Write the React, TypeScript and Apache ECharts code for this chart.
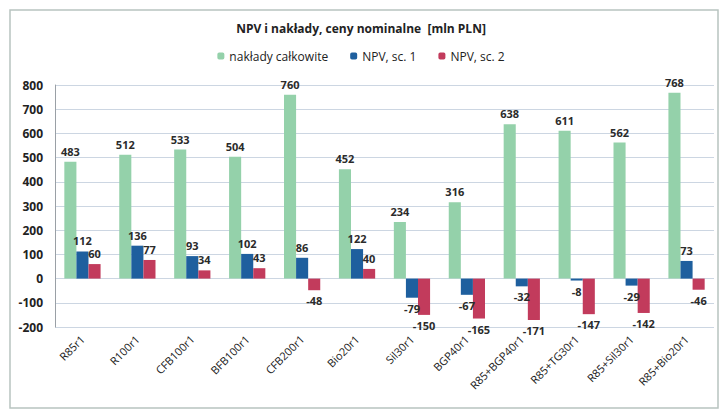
import React, { useEffect, useRef } from "react";
import * as echarts from "echarts";

const categories = ["R85r1", "R100r1", "CFB100r1", "BFB100r1", "CFB200r1", "Bio20r1", "Sil30r1", "BGP40r1", "R85+BGP40r1", "R85+TG30r1", "R85+Sil30r1", "R85+Bio20r1"];
const naklady = [483, 512, 533, 504, 760, 452, 234, 316, 638, 611, 562, 768];
const npv1 = [112, 136, 93, 102, 86, 122, -79, -67, -32, -8, -29, 73];
const npv2 = [60, 77, 34, 43, -48, 40, -150, -165, -171, -147, -142, -46];

const labelFont = { fontFamily: "Open Sans", fontWeight: "bold" as const, fontSize: 11, color: "#2b2b2b" };

export default function App() {
  const ref = useRef<HTMLDivElement>(null);
  useEffect(() => {
    if (!ref.current) return;
    const chart = echarts.init(ref.current, undefined, { renderer: "svg" });
    const signedLabel = (vals: number[]) =>
      vals.map((v) => ({
        value: v,
        label: { position: v >= 0 ? "top" : "bottom" },
      }));
    chart.setOption({
      animation: false,
      backgroundColor: "#ffffff",
      title: {
        text: "NPV i nakłady, ceny nominalne  [mln PLN]",
        left: "center",
        top: 17,
        textStyle: { fontFamily: "Open Sans", fontWeight: "bold", fontSize: 12, color: "#222" },
      },
      legend: {
        top: 45,
        left: "center",
        itemWidth: 7,
        itemHeight: 7,
        itemGap: 22,
        textStyle: { fontFamily: "Open Sans", fontSize: 12, color: "#222" },
        data: ["nakłady całkowite", "NPV, sc. 1", "NPV, sc. 2"],
      },
      graphic: [
        {
          type: "rect",
          shape: { x: 10, y: 10, width: 708, height: 398 },
          style: { fill: "none", stroke: "#b8c4c0", lineWidth: 1.5 },
          silent: true,
        },
      ],
      grid: { left: 55, right: 8, top: 85, bottom: 85 },
      xAxis: {
        type: "category",
        data: categories,
        axisTick: { show: false },
        axisLine: { show: false },
        axisLabel: { rotate: 45, interval: 0, fontFamily: "Open Sans", fontSize: 11, color: "#222", margin: 10 },
      },
      yAxis: {
        type: "value",
        min: -200,
        max: 800,
        interval: 100,
        axisLine: { show: true, lineStyle: { color: "#9aa0a6" } },
        axisTick: { show: false },
        splitLine: { lineStyle: { color: "#ccd6e2" } },
        axisLabel: { fontFamily: "Open Sans", fontWeight: "bold", fontSize: 12, color: "#222", margin: 12 },
      },
      series: [
        {
          name: "nakłady całkowite",
          type: "bar",
          data: naklady,
          barGap: "0%",
          barCategoryGap: "34%",
          itemStyle: { color: "#94d1aa" },
          label: { show: true, position: "top", ...labelFont },
        },
        {
          name: "NPV, sc. 1",
          type: "bar",
          data: signedLabel(npv1),
          itemStyle: { color: "#1e5f9e" },
          label: { show: true, ...labelFont },
        },
        {
          name: "NPV, sc. 2",
          type: "bar",
          data: signedLabel(npv2),
          itemStyle: { color: "#c23b5c" },
          label: { show: true, ...labelFont },
        },
      ],
    });
    return () => chart.dispose();
  }, []);
  return <div ref={ref} style={{ position: "absolute", left: 0, top: 0, width: 722, height: 412 }} />;
}
